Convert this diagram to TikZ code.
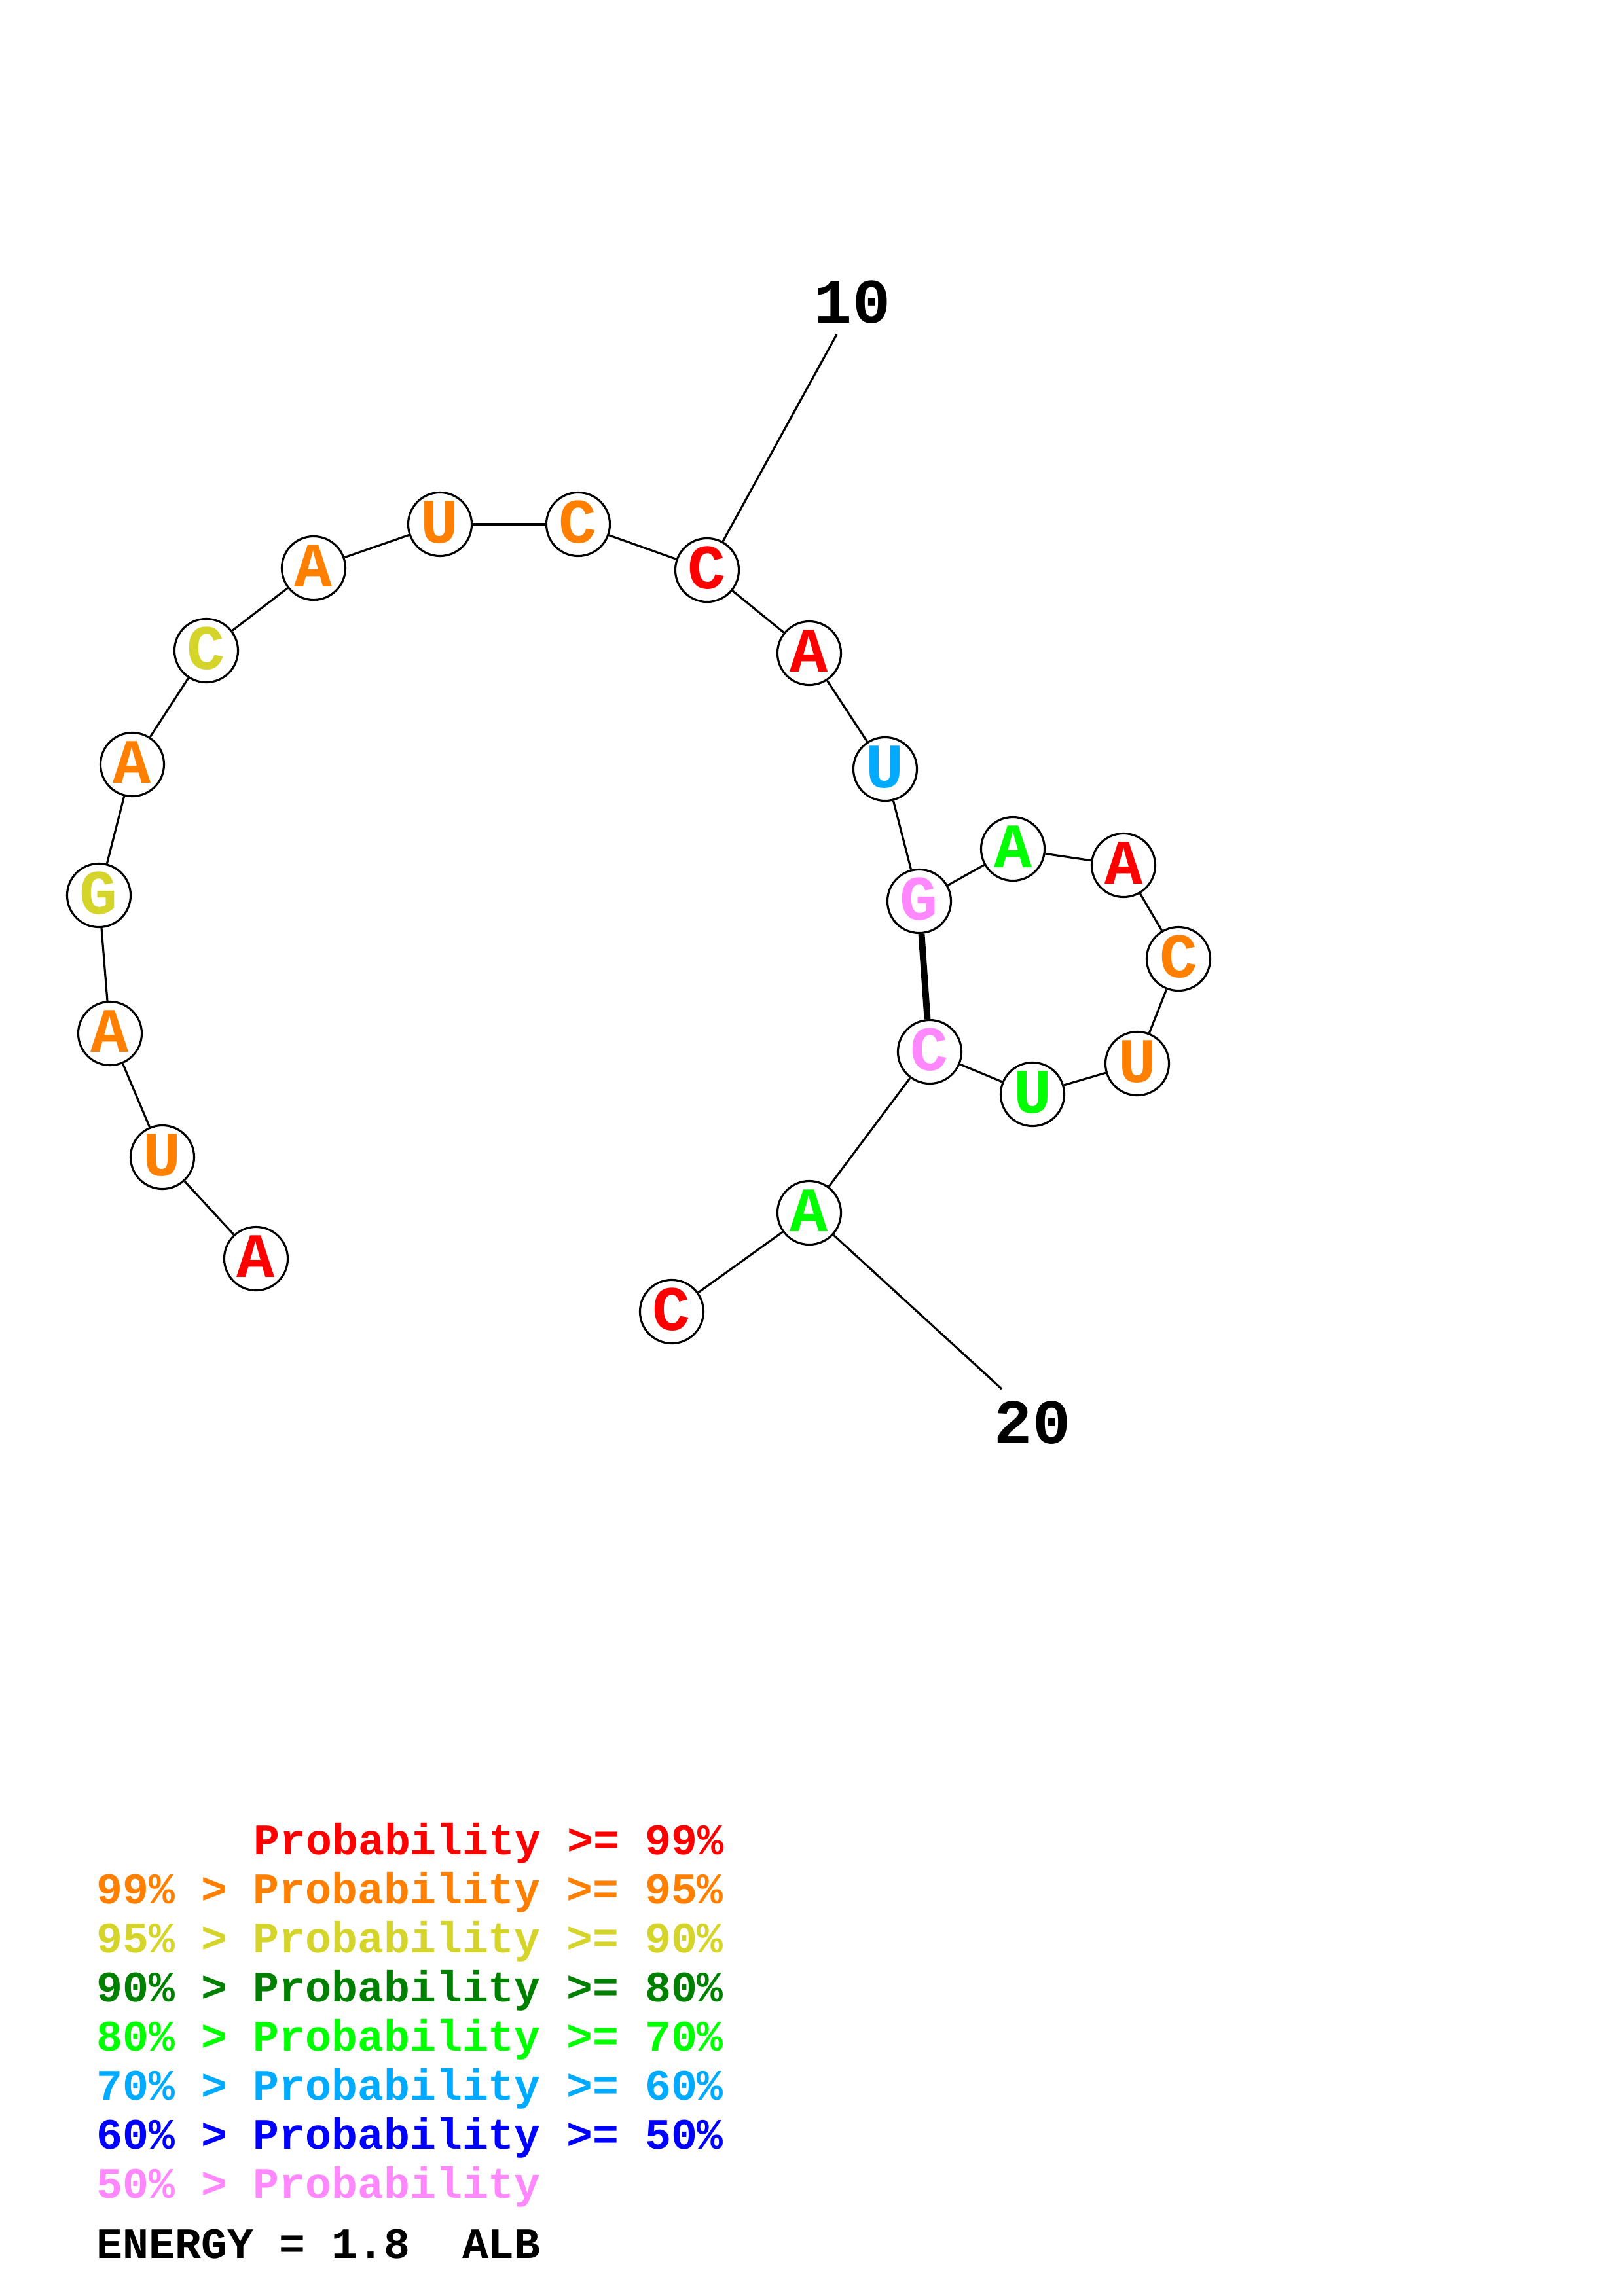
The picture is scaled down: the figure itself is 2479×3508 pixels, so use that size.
\documentclass[tikz,border=0pt]{standalone}
\usepackage{fontspec}
\newfontfamily\monob{Liberation Mono}[BoldFont={Liberation Mono Bold}]
\definecolor{pr}{HTML}{FF0000}
\definecolor{po}{HTML}{FF8000}
\definecolor{py}{HTML}{D4D42A}
\definecolor{pdg}{HTML}{008000}
\definecolor{pg}{HTML}{00FF00}
\definecolor{plb}{HTML}{00AAFF}
\definecolor{pb}{HTML}{0000FF}
\definecolor{pp}{HTML}{FF88FF}
\tikzset{
  base/.style={circle, draw=black, line width=0.9pt, fill=white, minimum size=0.97cm, inner sep=0pt,
    font=\monob\bfseries\fontsize{27.5}{30}\selectfont, text height=16.2pt, text depth=0pt},
  numlab/.style={inner sep=0pt, font=\monob\bfseries\fontsize{27.5}{30}\selectfont, text height=17pt, text depth=0pt},
  legend/.style={anchor=base west, inner sep=0pt, font=\monob\bfseries\fontsize{18.9}{21}\selectfont},
  bb/.style={line width=0.9pt, black},
  pairbond/.style={line width=2.8pt, black}
}
\begin{document}
\begin{tikzpicture}[x=0.01cm, y=-0.01cm]
\useasboundingbox (0,0) rectangle (2479,3508);
\coordinate (e10) at (1278,511);
\coordinate (e20) at (1530,2122);
\node[base, text=pr]  (n1)  at (391,1923) {A};
\node[base, text=po]  (n2)  at (248,1768) {U};
\node[base, text=po]  (n3)  at (168,1579) {A};
\node[base, text=py]  (n4)  at (151,1368) {G};
\node[base, text=po]  (n5)  at (202,1168) {A};
\node[base, text=py]  (n6)  at (315,994)  {C};
\node[base, text=po]  (n7)  at (479,868)  {A};
\node[base, text=po]  (n8)  at (672,801)  {U};
\node[base, text=po]  (n9)  at (883,801)  {C};
\node[base, text=pr]  (n10) at (1080,871) {C};
\node[base, text=pr]  (n11) at (1236,998) {A};
\node[base, text=plb] (n12) at (1352,1175) {U};
\node[base, text=pp]  (n13) at (1404,1377) {G};
\node[base, text=pg]  (n14) at (1547,1297) {A};
\node[base, text=pr]  (n15) at (1716,1322) {A};
\node[base, text=po]  (n16) at (1800,1465) {C};
\node[base, text=po]  (n17) at (1737,1625) {U};
\node[base, text=pg]  (n18) at (1577,1672) {U};
\node[base, text=pp]  (n19) at (1420,1607) {C};
\node[base, text=pg]  (n20) at (1236,1853) {A};
\node[base, text=pr]  (n21) at (1026,2004) {C};
\foreach \a/\b in {n1/n2,n2/n3,n3/n4,n4/n5,n5/n6,n6/n7,n7/n8,n8/n9,n9/n10,n10/n11,n11/n12,n12/n13,n13/n14,n14/n15,n15/n16,n16/n17,n17/n18,n18/n19,n19/n20,n20/n21}
  \draw[bb] (\a) -- (\b);
\draw[pairbond] (n13) -- (n19);
\draw[bb] (n10) -- (e10);
\draw[bb] (n20) -- (e20);
\node[numlab] (l10) at (1302,464) {10};
\node[numlab] (l20) at (1577,2176) {20};
\node[legend, text=pr]  (g1) at (387,2833) {Probability >= 99\%};
\node[legend, text=po]  (g2) at (147,2908) {99\% > Probability >= 95\%};
\node[legend, text=py]  (g3) at (147,2983) {95\% > Probability >= 90\%};
\node[legend, text=pdg] (g4) at (147,3058) {90\% > Probability >= 80\%};
\node[legend, text=pg]  (g5) at (147,3133) {80\% > Probability >= 70\%};
\node[legend, text=plb] (g6) at (147,3208) {70\% > Probability >= 60\%};
\node[legend, text=pb]  (g7) at (147,3283) {60\% > Probability >= 50\%};
\node[legend, text=pp]  (g8) at (147,3358) {50\% > Probability};
\node[legend, text=black] (en) at (147,3450) {ENERGY = 1.8\ \ ALB};
\end{tikzpicture}
\end{document}
